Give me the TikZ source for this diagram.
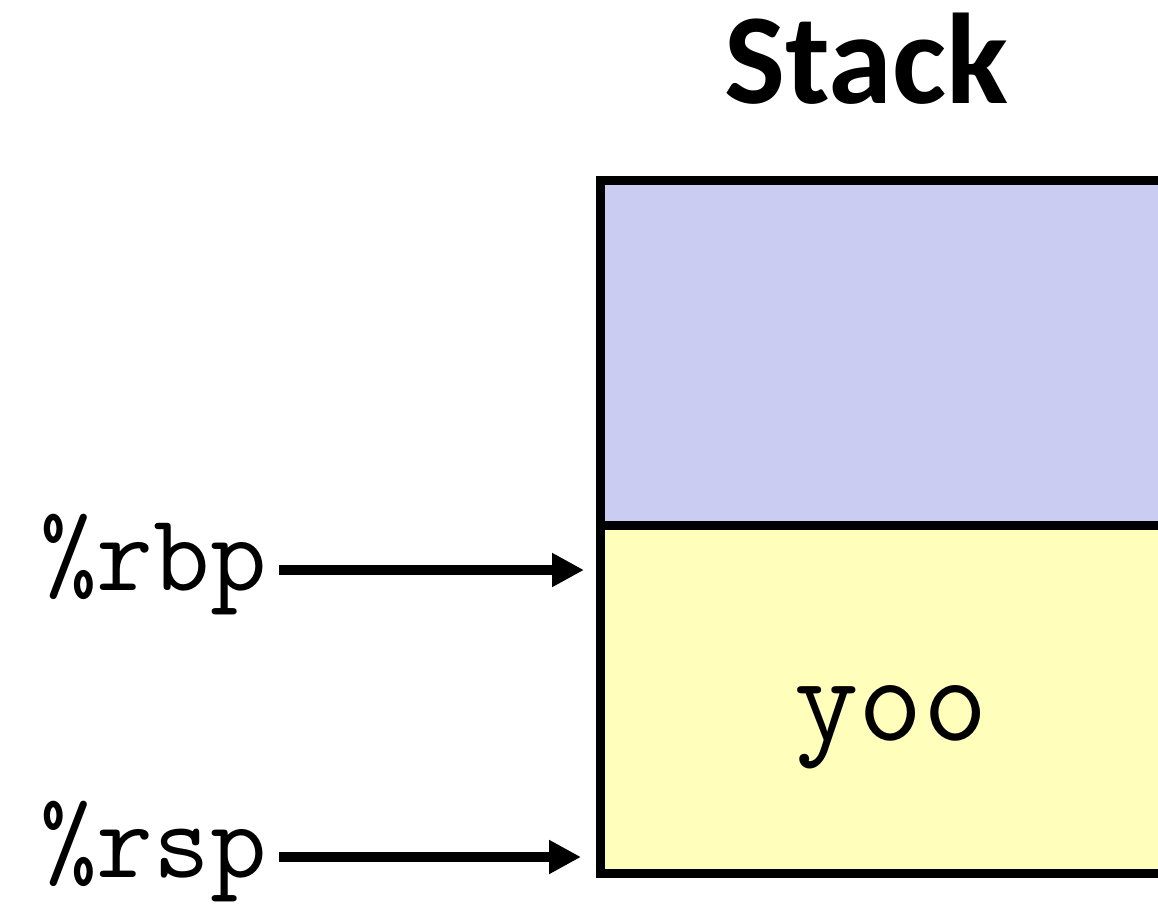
\documentclass[tikz,border=0pt]{standalone}
\usepackage{fontspec}
\newfontfamily\titlefont{Carlito}
\usetikzlibrary{arrows.meta}
\definecolor{lav}{RGB}{203,204,242}
\definecolor{ylw}{RGB}{255,255,187}
\tikzset{
  cell/.style={draw=black, line width=9pt, inner sep=0pt, outer sep=0pt, minimum width=650pt},
  reglabel/.style={font=\ttfamily\fontsize{110}{110}\selectfont, inner sep=0pt, anchor=base west},
  ptr/.style={line width=10pt, -{Triangle[length=32pt,width=32pt]}}
}
\begin{document}
\begin{tikzpicture}[x=1pt,y=-1pt]
\useasboundingbox (0,0) rectangle (1158,909);
\clip (0,0) rectangle (1158,909);
\node[font=\titlefont\bfseries\fontsize{129}{129}\selectfont, anchor=base, inner sep=0pt] (title) at (866,104) {Stack};
\node[cell, fill=lav, minimum height=344pt] (upper) at (925,353) {};
\node[cell, fill=ylw, minimum height=348pt] (lower) at (925,699) {};
\node[font=\ttfamily\fontsize{125}{125}\selectfont, anchor=base, inner sep=0pt] (yoo) at (891,740) {yoo};
\node[reglabel] (rbp) at (40,590) {\%rbp};
\node[reglabel] (rsp) at (40,877) {\%rsp};
\coordinate (rbptip) at (584,570);
\coordinate (rsptip) at (581,857);
\draw[ptr] ([xshift=12pt]rbp.east |- rbptip) -- (rbptip);
\draw[ptr] ([xshift=12pt]rsp.east |- rsptip) -- (rsptip);
\end{tikzpicture}
\end{document}
